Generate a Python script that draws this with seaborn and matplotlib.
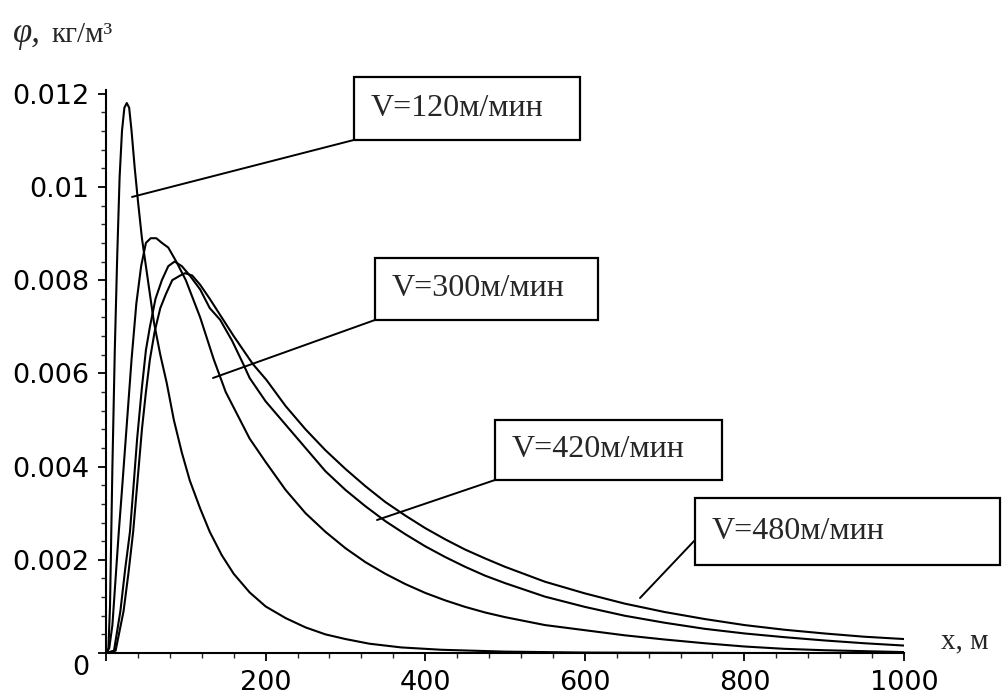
import matplotlib
matplotlib.use("Agg")
import matplotlib.pyplot as plt
from matplotlib.patches import Rectangle
from matplotlib.ticker import MultipleLocator
from matplotlib.transforms import ScaledTranslation
import pandas as pd
import seaborn as sns

# ---------------- data ----------------
x120 = [0, 3, 5, 8, 11, 14, 17, 20, 23, 26, 29, 32, 36, 40, 45, 50, 55, 60, 68, 76,
        85, 95, 105, 118, 130, 145, 160, 180, 200, 225, 250, 275, 300, 330, 370, 420,
        500, 600, 800, 1000]
y120 = [0, 0.0001, 0.0010, 0.0040, 0.0065, 0.0085, 0.0102, 0.0112, 0.0117, 0.0118,
        0.0117, 0.0112, 0.0104, 0.0097, 0.0089, 0.0083, 0.0077, 0.0071, 0.0064, 0.0058,
        0.0050, 0.0043, 0.0037, 0.0031, 0.0026, 0.0021, 0.0017, 0.0013, 0.0010, 0.00075,
        0.00055, 0.0004, 0.0003, 0.0002, 0.00012, 0.00007, 0.00003, 0.00001, 0, 0]

x300 = [0, 4, 8, 12, 16, 20, 26, 32, 38, 44, 50, 56, 63, 70, 78, 88, 100, 118, 135,
        150, 165, 180, 200, 225, 250, 275, 300, 325, 350, 375, 400, 425, 450, 475, 500,
        550, 600, 650, 700, 750, 800, 850, 900, 950, 1000]
y300 = [0, 0.0001, 0.0006, 0.0016, 0.0026, 0.0035, 0.0049, 0.0063, 0.0075, 0.0083,
        0.0088, 0.0089, 0.0089, 0.0088, 0.0087, 0.0084, 0.0080, 0.0072, 0.0063, 0.0056,
        0.0051, 0.0046, 0.0041, 0.0035, 0.0030, 0.0026, 0.00225, 0.00195, 0.0017,
        0.00148, 0.00129, 0.00113, 0.00099, 0.00087, 0.00077, 0.0006, 0.00049, 0.00038,
        0.00029, 0.00021, 0.00014, 0.00009, 0.00006, 0.00004, 0.00002]

x420 = [0, 10, 18, 24, 30, 35, 39, 45, 50, 55, 62, 70, 78, 86, 95, 105, 118, 130, 143,
        158, 172, 180, 200, 225, 250, 275, 300, 325, 350, 375, 400, 425, 450, 475, 500,
        550, 600, 650, 700, 750, 800, 850, 900, 950, 1000]
y420 = [0, 0.00005, 0.0009, 0.0018, 0.0026, 0.0037, 0.0046, 0.0057, 0.0065, 0.0070,
        0.0076, 0.0080, 0.0083, 0.0084, 0.0083, 0.0081, 0.0078, 0.0074, 0.00715, 0.0067,
        0.0062, 0.0059, 0.0054, 0.0049, 0.0044, 0.0039, 0.0035, 0.00315, 0.00283,
        0.00255, 0.00229, 0.00206, 0.00185, 0.00166, 0.0015, 0.00121, 0.00099, 0.0008,
        0.00065, 0.00052, 0.00042, 0.00034, 0.00027, 0.00021, 0.00016]

x480 = [0, 12, 22, 28, 34, 40, 45, 50, 55, 61, 68, 75, 83, 93, 99, 108, 118, 130, 145,
        160, 184, 201, 225, 250, 275, 300, 325, 350, 375, 400, 425, 450, 475, 500, 550,
        600, 650, 700, 750, 800, 850, 900, 950, 1000]
y480 = [0, 0.00005, 0.0009, 0.0017, 0.0026, 0.0038, 0.0048, 0.0056, 0.0063, 0.0069,
        0.0074, 0.0077, 0.0080, 0.0081, 0.00815, 0.0081, 0.0079, 0.0076, 0.0072, 0.0068,
        0.0062, 0.00586, 0.0053, 0.0048, 0.00435, 0.00395, 0.00358, 0.00324, 0.00295,
        0.00268, 0.00244, 0.00222, 0.00203, 0.00185, 0.00153, 0.00128, 0.00106, 0.00088,
        0.00073, 0.0006, 0.0005, 0.00042, 0.00035, 0.0003]

labels = ["V=120м/мин", "V=300м/мин", "V=420м/мин", "V=480м/мин"]
x_ticks = [0, 200, 400, 600, 800, 1000]
x_tick_labels = ["", "200", "400", "600", "800", "1000"]
y_ticks = [0, 0.002, 0.004, 0.006, 0.008, 0.01, 0.012]
y_tick_labels = ["0", "0.002", "0.004", "0.006", "0.008", "0.01", "0.012"]
y_label = "кг/м³"
phi_label = "φ,"
x_label = "x, м"

# ---------------- build long table ----------------
frames = []
for lab, xs, ys in zip(labels, [x120, x300, x420, x480], [y120, y300, y420, y480]):
    frames.append(pd.DataFrame({"x": xs, "phi": ys, "V": lab}))
df = pd.concat(frames, ignore_index=True)

# ---------------- style ----------------
sns.set_style("ticks")
plt.rcParams["font.family"] = ["DejaVu Sans"]
serif = ["Liberation Serif", "DejaVu Serif"]

fig = plt.figure(figsize=(10.04, 6.95), dpi=100)
ax = fig.add_axes([0.1056, 0.0604, 0.7948, 0.8101])

for lab in labels:
    sns.lineplot(data=df[df["V"] == lab], x="x", y="phi", sort=False,
                 estimator=None, color="black", lw=1.5, ax=ax, legend=False)

ax.set_xlim(0, 1000)
ax.set_ylim(0, 0.01208)
ax.set_xticks(x_ticks)
ax.set_xticklabels(x_tick_labels)
ax.set_yticks(y_ticks)
ax.set_yticklabels(y_tick_labels)
ax.xaxis.set_minor_locator(MultipleLocator(40))
ax.yaxis.set_minor_locator(MultipleLocator(0.0004))
ax.tick_params(axis="both", which="major", direction="out", length=6, width=1.3,
               labelsize=19.5, colors="black", pad=6)
ax.tick_params(axis="both", which="minor", direction="out", length=3.5, width=1.0)
for side in ["top", "right"]:
    ax.spines[side].set_visible(False)
for side in ["left", "bottom"]:
    ax.spines[side].set_linewidth(1.5)
    ax.spines[side].set_color("black")
ax.set_xlabel("")
ax.set_ylabel("")

# move the origin "0" label slightly down, as in the reference
lbl0 = ax.get_yticklabels()[0]
lbl0.set_transform(lbl0.get_transform() + ScaledTranslation(0, -12 / 100, fig.dpi_scale_trans))

# axis titles
fig.text(13 / 1004, 1 - 33 / 695, phi_label, family=serif, style="italic",
         fontsize=25, va="center", ha="left")
fig.text(52 / 1004, 1 - 35 / 695, y_label, family=serif, fontsize=21,
         va="center", ha="left")
fig.text(941 / 1004, 1 - 641 / 695, x_label, family=serif, fontsize=21,
         va="center", ha="left")

# callout boxes (pixel layout converted to data coordinates)
def px2data(px, py):
    return (px - 106) / 0.798, (653 - py) / 46600.0

boxes = [((354, 77), (580, 140), (354, 140), (132, 197)),
         ((375, 258), (598, 320), (375, 320), (213, 378)),
         ((495, 420), (722, 480), (495, 480), (377, 520)),
         ((695, 498), (1000, 565), (695, 540), (640, 598))]

for lab, (tl, br, lstart, lend) in zip(labels, boxes):
    x0, y1 = px2data(*tl)
    x1, y0 = px2data(*br)
    ax.add_patch(Rectangle((x0, y0), x1 - x0, y1 - y0, facecolor="white",
                           edgecolor="black", lw=1.6, clip_on=False, zorder=5))
    tx, _ = px2data(tl[0] + 17, 0)
    ax.text(tx, (y0 + y1) / 2, lab, family=serif, fontsize=23, ha="left",
            va="center", zorder=6, clip_on=False)
    sx, sy = px2data(*lstart)
    ex, ey = px2data(*lend)
    ax.annotate("", xy=(ex, ey), xytext=(sx, sy),
                arrowprops=dict(arrowstyle="-", color="black", lw=1.4,
                                shrinkA=0, shrinkB=0), zorder=4,
                annotation_clip=False)

fig.savefig("out.png", dpi=100, facecolor="white")
